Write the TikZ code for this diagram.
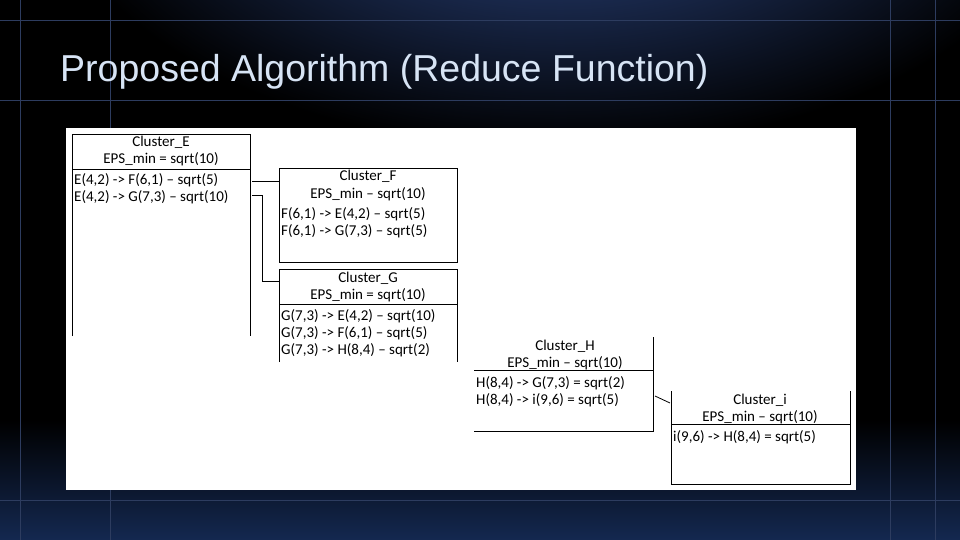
\documentclass[tikz,border=0pt]{standalone}
\usepackage{fontspec}
\setmainfont{Carlito}
\newfontfamily\titlefont{Liberation Sans}
\definecolor{gridc}{RGB}{45,60,95}
\definecolor{glow}{RGB}{50,80,150}
\definecolor{bot}{RGB}{20,40,80}
\definecolor{titlec}{RGB}{215,228,245}
\begin{document}
\begin{tikzpicture}[x=1pt,y=-1pt,
  bx/.style={line width=0.8pt,black},
  tx/.style={font=\fontsize{15}{15}\selectfont,inner sep=0pt,anchor=base},
  lx/.style={tx,anchor=base west}]
\useasboundingbox (0,0) rectangle (960,540);
\fill[black] (0,0) rectangle (960,540);
\shade[inner color=glow,outer color=black] (560,-150) ellipse (520 and 300);
\shade[top color=black,bottom color=bot] (0,420) rectangle (960,540);
\foreach \x in {20,110,890,935} \draw[gridc,line width=0.4pt] (\x,0) -- (\x,540);
\foreach \y in {20,100,500} \draw[gridc,line width=0.4pt] (0,\y) -- (960,\y);
\node[font=\titlefont\fontsize{37.5}{37.5}\selectfont,text=titlec,anchor=base west,inner sep=0pt] (title) at (60,82) {Proposed Algorithm (Reduce Function)};
\fill[white] (66,128) rectangle (856,490);
% E
\draw[bx] (72,336) -- (72,134) -- (250,134) -- (250,336);
\draw[bx] (72,169) -- (250,169);
\node[tx] (e1) at (161,147) {Cluster\_E};
\node[tx] (e2) at (161,164) {EPS\_min = sqrt(10)};
\node[lx] (e3) at (74,184) {E(4,2) -> F(6,1) -- sqrt(5)};
\node[lx] (e4) at (74,201) {E(4,2) -> G(7,3) -- sqrt(10)};
% F
\draw[bx] (279,168) rectangle (457,262);
\node[tx] (f1) at (368,181) {Cluster\_F};
\node[tx] (f2) at (368,198) {EPS\_min -- sqrt(10)};
\node[lx] (f3) at (281,218) {F(6,1) -> E(4,2) -- sqrt(5)};
\node[lx] (f4) at (281,235) {F(6,1) -> G(7,3) -- sqrt(5)};
% G
\draw[bx] (279,362) -- (279,269) -- (457,269) -- (457,362);
\draw[bx] (279,304) -- (457,304);
\node[tx] (g1) at (368,282) {Cluster\_G};
\node[tx] (g2) at (368,299) {EPS\_min = sqrt(10)};
\node[lx] (g3) at (281,320) {G(7,3) -> E(4,2) -- sqrt(10)};
\node[lx] (g4) at (281,337) {G(7,3) -> F(6,1) -- sqrt(5)};
\node[lx] (g5) at (281,354) {G(7,3) -> H(8,4) -- sqrt(2)};
% H
\draw[bx] (653,337) -- (653,431) -- (474,431);
\draw[bx] (474,370) -- (653,370);
\node[tx] (h1) at (565,350) {Cluster\_H};
\node[tx] (h2) at (565,367) {EPS\_min -- sqrt(10)};
\node[lx] (h3) at (476,387) {H(8,4) -> G(7,3) = sqrt(2)};
\node[lx] (h4) at (476,404) {H(8,4) -> i(9,6) = sqrt(5)};
% I
\draw[bx] (671,391) -- (671,484) -- (850,484) -- (850,391);
\draw[bx] (671,424) -- (850,424);
\node[tx] (i1) at (760,404) {Cluster\_i};
\node[tx] (i2) at (760,421) {EPS\_min -- sqrt(10)};
\node[lx] (i3) at (673,441) {i(9,6) -> H(8,4) = sqrt(5)};
% connectors
\coordinate (a1) at (252,181); \coordinate (a2) at (279,181);
\draw[bx] (a1) -- (a2);
\coordinate (b1) at (252,195); \coordinate (b2) at (279,281);
\draw[bx] (b1) -| (262,281) -- (b2);
\coordinate (c1) at (655,396); \coordinate (c2) at (670,403);
\draw[bx] (c1) -- (c2);
\end{tikzpicture}
\end{document}
